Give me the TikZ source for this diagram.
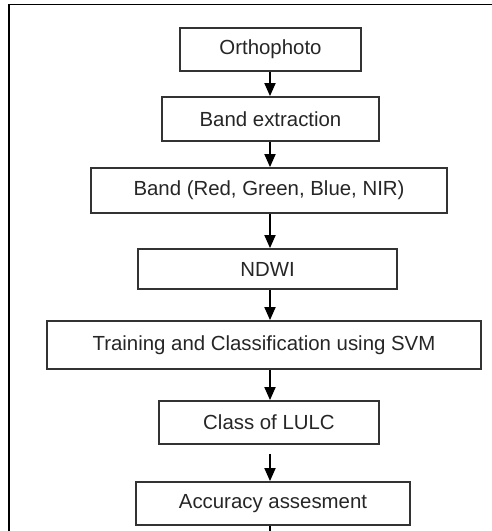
\documentclass[tikz,border=0pt]{standalone}
\usepackage{fontspec}
\setmainfont{Liberation Sans}
\usetikzlibrary{arrows.meta,calc}
\definecolor{ink}{HTML}{262626}
\definecolor{edge}{HTML}{333333}
\begin{document}
\begin{tikzpicture}[x=1pt,y=-1pt,
  stepbox/.style={draw=edge,line width=1.8pt,inner sep=0pt,text=ink,
    font=\fontsize{20.4}{24}\selectfont},
  flow/.style={draw=black,line width=1.8pt,
    -{Triangle[width=11pt,length=13pt]}},
  frame/.style={draw=black,line width=1.8pt}]
\useasboundingbox (0,0) rectangle (492,531);
\fill[white] (0,0) rectangle (492,531);
% outer frame (open at right and bottom)
\draw[frame] (9,531) -- (9,4.5) -- (492,4.5);
% process boxes: centre, width, height
\node[stepbox,minimum width=181pt,minimum height=43pt] (ortho) at (270.5,49.5) {Orthophoto};
\node[stepbox,minimum width=217pt,minimum height=44pt] (extr) at (270.5,119) {Band extraction};
\node[stepbox,minimum width=356pt,minimum height=45pt] (band) at (269,190.5) {Band (Red, Green, Blue, NIR)};
\node[stepbox,minimum width=259pt,minimum height=40pt] (ndwi) at (267.5,269) {NDWI};
\node[stepbox,minimum width=434pt,minimum height=48pt] (svm) at (264,345) {Training and Classification using SVM};
\node[stepbox,minimum width=220pt,minimum height=43pt] (lulc) at (269,422.5) {Class of LULC};
\node[stepbox,minimum width=274pt,minimum height=43pt] (acc) at (273,503.5) {Accuracy assesment};
% arrow column
\coordinate (col) at (270,0);
\coordinate (bottom) at (270,531);
\draw[flow] (ortho.south -| col) -- (extr.north -| col);
\draw[flow] (extr.south -| col) -- (band.north -| col);
\draw[flow] (band.south -| col) -- (ndwi.north -| col);
\draw[flow] (ndwi.south -| col) -- (svm.north -| col);
\draw[flow] (svm.south -| col) -- (lulc.north -| col);
\draw[flow,shorten <=9pt] (lulc.south -| col) -- (acc.north -| col);
\draw[draw=black,line width=1.6pt] (acc.south -| col) -- (bottom);
\end{tikzpicture}
\end{document}
